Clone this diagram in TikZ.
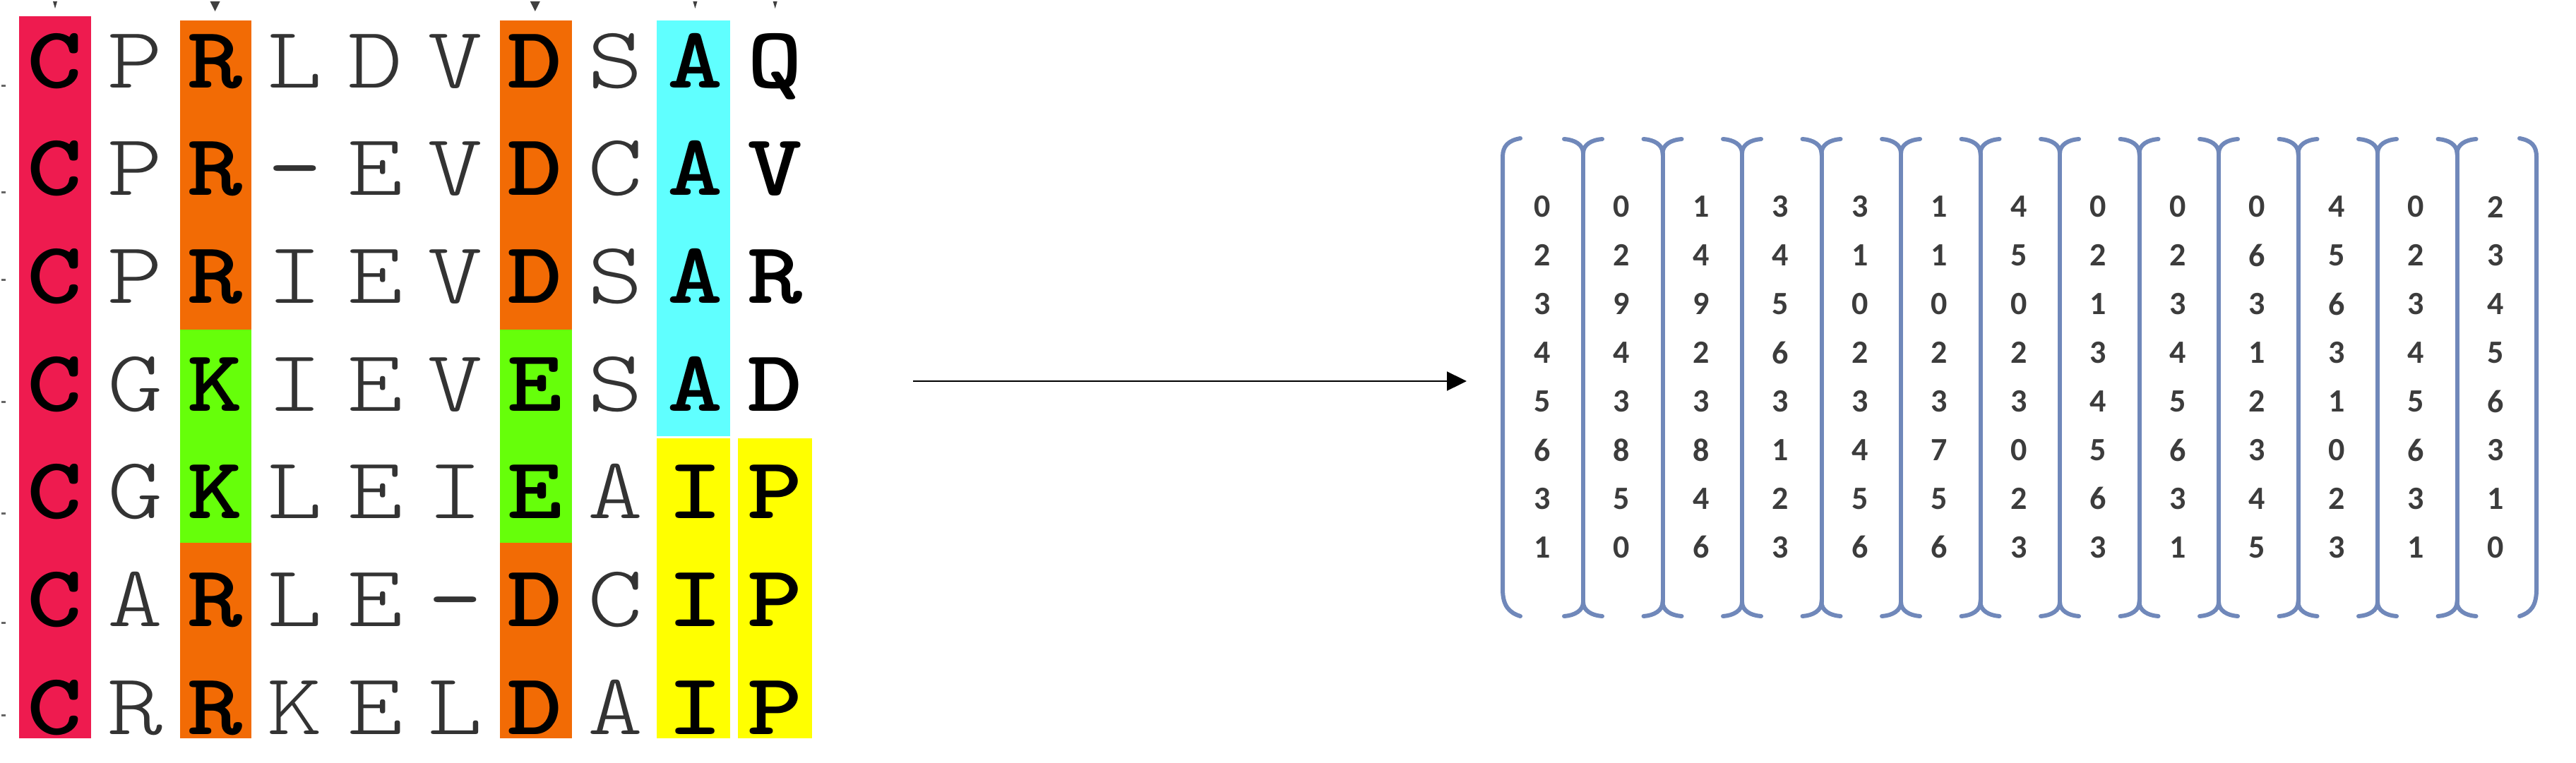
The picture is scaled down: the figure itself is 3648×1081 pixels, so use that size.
\documentclass[tikz,border=0pt]{standalone}
\usepackage{fontspec}
\usepackage{graphicx}
\usetikzlibrary{arrows.meta}
\newfontfamily\digfont{Carlito}
\definecolor{cred}{HTML}{EE1B4F}
\definecolor{corange}{HTML}{F26B05}
\definecolor{cgreen}{HTML}{66FF0A}
\definecolor{ccyan}{HTML}{60FFFF}
\definecolor{cyel}{HTML}{FFFF00}
\definecolor{brk}{HTML}{7088BA}
\definecolor{dig}{HTML}{3C3C3C}
\definecolor{thin}{HTML}{333333}
\newcommand\strch[1]{\scalebox{1.2}[1]{#1}}
\begin{document}
\begin{tikzpicture}[x=1pt,y=-1pt,
  lr/.style={anchor=base, inner sep=0pt, text=thin, font=\fontsize{124}{130}\selectfont\ttfamily\fontseries{l}\selectfont},
  lm/.style={anchor=base, inner sep=0pt, text=thin, font=\fontsize{124}{130}\selectfont\ttfamily},
  lb/.style={anchor=base, inner sep=0pt, text=black, font=\fontsize{124}{130}\selectfont\ttfamily\bfseries},
  dg/.style={anchor=center, inner sep=0pt, text=dig, font=\fontsize{46}{50}\selectfont\digfont\bfseries},
  brline/.style={draw=brk, line width=6pt, line cap=round},
  tick/.style={fill=black!75}
]
\useasboundingbox (0,0) rectangle (3648,1081);
\fill[white] (0,0) rectangle (3648,1081);
% colour columns
\fill[cred] (27,23) rectangle (129,1046);
\fill[corange] (255,29) rectangle (356,467);
\fill[cgreen] (255,467) rectangle (356,769);
\fill[corange] (255,769) rectangle (356,1046);
\fill[corange] (708,29) rectangle (810,467);
\fill[cgreen] (708,467) rectangle (810,769);
\fill[corange] (708,769) rectangle (810,1046);
\fill[ccyan] (930,29) rectangle (1034,618);
\fill[cyel] (930,621) rectangle (1034,1046);
\fill[cyel] (1045,621) rectangle (1150,1046);
% top ticks
\foreach \c in {0,8,9} \fill[tick] ({78+113.3*\c-3},2) -- ({78+113.3*\c+3},2) -- ({78+113.3*\c},12) -- cycle;
\foreach \c in {2,6} \fill[tick] ({78+113.3*\c-7},2) -- ({78+113.3*\c+7},2) -- ({78+113.3*\c},16) -- cycle;
% left edge marks
\foreach \yy in {121,272,396,569,727,882,1013} \fill[black!60] (2,\yy-1.5) rectangle (8,\yy+1.5);
% letters
\foreach \row [count=\j from 0] in {
 {C/b,P/r,R/b,L/r,D/r,V/r,D/b,S/r,A/b,Q/b},
 {C/b,P/r,R/b,-/m,E/r,V/r,D/b,C/r,A/b,V/b},
 {C/b,P/r,R/b,I/r,E/r,V/r,D/b,S/r,A/b,R/b},
 {C/b,G/r,K/b,I/r,E/r,V/r,E/b,S/r,A/b,D/b},
 {C/b,G/r,K/b,L/r,E/r,I/r,E/b,A/r,I/b,P/b},
 {C/b,A/r,R/b,L/r,E/r,-/m,D/b,C/r,I/b,P/b},
 {C/b,R/r,R/b,K/r,E/r,L/r,D/b,A/r,I/b,P/b}}{
  \foreach \ch/\s [count=\i from 0] in \row {
    \node[l\s] (a\j-\i) at ({78+113.3*\i},{124+152.7*\j}) {\strch{\ch}};
  }
}
% arrow
\coordinate (arrS) at (1293,540);
\coordinate (arrE) at (2077,540);
\draw[line width=2.2pt, -{Triangle[length=28pt,width=27pt]}] (arrS) -- (arrE);
% matrix brackets
\draw[brline] (2153,196) .. controls (2136,199) and (2128,207) .. (2128,222) -- (2128,835) .. controls (2128,858) and (2137,868) .. (2153,873);
\draw[brline] (3568,196) .. controls (3585,199) and (3592,207) .. (3592,222) -- (3592,835) .. controls (3592,858) and (3584,868) .. (3568,873);
\foreach \k in {0,...,11} {
  \pgfmathsetmacro\sx{2242+112.5*\k}
  \draw[brline] (\sx,217) -- (\sx,853);
  \draw[brline] (\sx-27,197) .. controls (\sx-12,198) and (\sx,205) .. (\sx,217) .. controls (\sx,205) and (\sx+12,198) .. (\sx+27,197);
  \draw[brline] (\sx-27,873) .. controls (\sx-12,872) and (\sx,865) .. (\sx,853) .. controls (\sx,865) and (\sx+12,872) .. (\sx+27,873);
}
% digits
\foreach \col [count=\c from 0] in {
 {0,2,3,4,5,6,3,1},
 {0,2,9,4,3,8,5,0},
 {1,4,9,2,3,8,4,6},
 {3,4,5,6,3,1,2,3},
 {3,1,0,2,3,4,5,6},
 {1,1,0,2,3,7,5,6},
 {4,5,0,2,3,0,2,3},
 {0,2,1,3,4,5,6,3},
 {0,2,3,4,5,6,3,1},
 {0,6,3,1,2,3,4,5},
 {4,5,6,3,1,0,2,3},
 {0,2,3,4,5,6,3,1},
 {2,3,4,5,6,3,1,0}}{
  \foreach \d [count=\r from 0] in \col {
    \node[dg] (m\c-\r) at ({2184+112.5*\c},{293+68.9*\r}) {\d};
  }
}
\end{tikzpicture}
\end{document}
